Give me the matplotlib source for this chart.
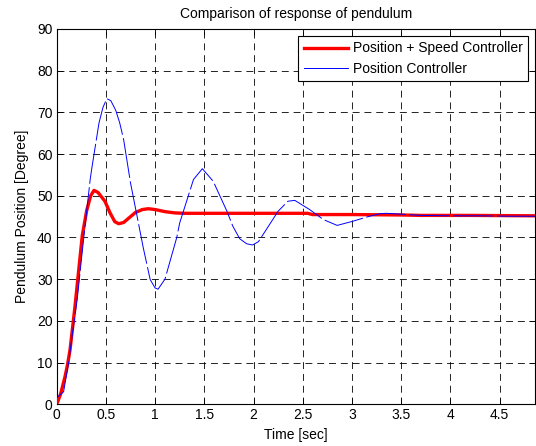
import matplotlib
matplotlib.use("Agg")
import matplotlib.pyplot as plt
from matplotlib.lines import Line2D
from matplotlib.ticker import FormatStrFormatter

# position + speed controller (red)
t_ps = [0, 0.04, 0.084, 0.11, 0.135, 0.186, 0.236, 0.26, 0.305, 0.345,
        0.379, 0.42, 0.49, 0.54, 0.59, 0.63, 0.68, 0.74, 0.80, 0.87,
        0.93, 1.0, 1.1, 1.2, 1.3, 1.6, 2.0, 2.4, 2.55, 2.6,
        3.0, 3.5, 3.7, 4.2, 4.86]
y_ps = [0, 2.5, 6.6, 9.5, 13, 23.5, 35.0, 40.5, 46.5, 50.0,
        51.3, 50.8, 48.7, 46.0, 43.8, 43.3, 43.6, 44.8, 46.0, 46.7,
        46.9, 46.7, 46.2, 45.9, 45.8, 45.8, 45.8, 45.8, 45.8, 45.5,
        45.5, 45.4, 45.3, 45.3, 45.2]

# position controller (blue)
t_p = [0, 0.07, 0.12, 0.17, 0.21, 0.25, 0.28, 0.34, 0.36, 0.43,
       0.47, 0.51, 0.55, 0.60, 0.64, 0.68, 0.75, 0.85, 0.88, 0.95,
       1.0, 1.03, 1.1, 1.22, 1.25, 1.39, 1.48, 1.59, 1.73, 1.79,
       1.86, 1.93, 1.99, 2.05, 2.13, 2.25, 2.35, 2.42, 2.57, 2.71,
       2.85, 3.01, 3.15, 3.28, 3.35, 3.5, 3.69, 4.0, 4.3, 4.6, 4.86]
y_p = [1.6, 3, 9.9, 18.7, 25.5, 34.5, 41.0, 53.9, 57.1, 67.5,
       71.2, 73.3, 72.8, 70.5, 67.5, 63.5, 53.1, 41.1, 37.5, 29.9,
       27.9, 27.6, 30, 40, 43.5, 53.9, 56.5, 53.5, 46.3, 42.7,
       39.7, 38.5, 38.2, 39.0, 41.9, 46.3, 48.7, 48.9, 46.7, 44.3,
       42.9, 43.9, 44.9, 45.7, 45.8, 45.6, 45.3, 45.2, 45.2, 45.1, 45.1]

labels = ['Position + Speed Controller', 'Position Controller']

plt.rcParams['font.family'] = ['Liberation Sans', 'DejaVu Sans']
plt.rcParams['font.size'] = 10
plt.rcParams['lines.scale_dashes'] = False

fig = plt.figure(figsize=(5.36, 4.46), dpi=100)
ax = fig.add_axes([0.1058, 0.0935, 0.8922, 0.8415])

ax.plot(t_ps, y_ps, color=(1, 0, 0), lw=2.4, zorder=3)
ax.plot(t_p, y_p, color=(0, 0, 1), lw=0.7, dashes=(29, 2.5), zorder=4)

ax.set_xlim(0, 4.86)
ax.set_ylim(0, 90)
ax.set_xticks([0, 0.5, 1, 1.5, 2, 2.5, 3, 3.5, 4, 4.5])
ax.set_yticks(range(0, 91, 10))
ax.xaxis.set_major_formatter(FormatStrFormatter('%g'))
ax.tick_params(direction='in', top=True, right=True, length=4, width=0.6,
               labelsize=10, pad=3)
ax.grid(True, color='black', lw=0.6, dashes=(5, 3.5))
for s in ax.spines.values():
    s.set_linewidth(0.8)

ax.set_title('Comparison of response of pendulum', fontsize=10, pad=8)
ax.set_xlabel('Time [sec]', labelpad=4)
ax.set_ylabel('Pendulum Position [Degree]', labelpad=6)

handles = [Line2D([], [], color=(1, 0, 0), lw=2.4),
           Line2D([], [], color=(0, 0, 1), lw=0.7)]
leg = ax.legend(handles, labels, loc='upper right', fancybox=False,
                edgecolor='black', framealpha=1, handlelength=3.2,
                handletextpad=0.3, borderaxespad=0.5, labelspacing=0.45,
                borderpad=0.4)
leg.get_frame().set_linewidth(0.8)

fig.savefig('out.png', dpi=100)
